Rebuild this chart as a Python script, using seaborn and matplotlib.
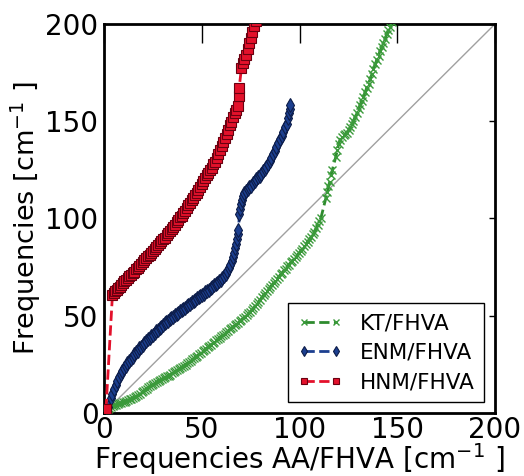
import numpy as np
import pandas as pd
import matplotlib
matplotlib.use("Agg")
import matplotlib.pyplot as plt
import seaborn as sns

# ---------------- data ----------------
axis_range = [0, 200]
ticks = [0, 50, 100, 150, 200]

kt_x = [0.5, 1.2, 2.0, 2.8, 3.6, 4.5, 5.3, 6.2, 7.0, 7.9, 8.8, 9.6, 10.5, 11.4, 12.3, 13.1, 14.0, 14.9, 15.7, 16.6,
        17.5, 18.3, 19.2, 20.1, 20.9, 21.8, 22.7, 23.5, 24.4, 25.3, 26.1, 27.0, 27.9, 28.7, 29.6, 30.5, 31.3, 32.2,
        33.1, 33.9, 34.8, 35.7, 36.5, 37.4, 38.3, 39.1, 40.0, 40.9, 41.7, 42.6, 43.5, 44.3, 45.2, 46.1, 46.9, 47.8,
        48.7, 49.5, 50.4, 51.3, 52.1, 53.0, 53.9, 54.7, 55.6, 56.5, 57.3, 58.2, 59.1, 59.9, 60.8, 61.7, 62.5, 63.4,
        64.3, 65.1, 66.0, 66.9, 67.7, 68.6, 69.5, 70.3, 71.2, 72.1, 72.9, 73.8, 74.7, 75.5, 76.4, 77.3, 78.1, 79.0,
        79.9, 80.7, 81.6, 82.5, 83.3, 84.2, 85.1, 85.9, 86.8, 87.7, 88.5, 89.4, 90.3, 91.1, 92.0, 92.9, 93.7, 94.6,
        95.5, 96.3, 97.2, 98.1, 98.9, 99.8, 100.7, 101.5, 102.4, 103.3, 104.1, 105.0, 105.9, 106.7, 107.6, 108.5,
        109.3, 110.2, 111.0, 113.5, 114.3, 114.8, 115.5, 116.2, 116.8, 118.5, 119.3, 120.1, 120.8, 121.6, 122.5,
        123.4, 124.3, 125.1, 125.9, 126.8, 127.6, 128.5, 129.3, 130.2, 131.0, 131.9, 132.7, 133.6, 134.4, 135.3,
        136.1, 137.0, 137.8, 138.7, 139.5, 140.4, 141.2, 142.1, 142.9, 143.8, 144.6, 145.5, 146.3, 147.2]
kt_y = [0.8, 1.5, 2.2, 2.6, 3.1, 3.4, 3.9, 4.1, 4.6, 4.9, 5.2, 5.6, 5.9, 6.3, 6.6, 7.1, 7.3, 7.8, 8.0, 8.5,
        9.1, 9.8, 10.6, 11.2, 11.9, 12.4, 13.3, 13.8, 14.5, 14.9, 15.6, 16.0, 16.6, 17.1, 17.4, 17.9, 18.3, 18.9,
        19.2, 19.6, 20.3, 20.9, 21.5, 22.0, 22.7, 23.1, 23.8, 24.2, 24.9, 25.5, 26.3, 26.8, 27.6, 28.1, 28.9, 29.5,
        30.3, 30.9, 31.7, 32.4, 33.1, 33.7, 34.6, 35.1, 35.9, 36.6, 37.4, 37.9, 38.8, 39.4, 40.2, 40.8, 41.6, 42.1,
        43.0, 43.6, 44.4, 45.0, 45.8, 46.4, 47.3, 47.9, 48.8, 49.4, 50.3, 51.2, 52.0, 52.9, 53.8, 55.0, 56.0, 57.3,
        58.3, 59.4, 60.6, 61.5, 62.7, 63.6, 64.9, 65.8, 66.9, 68.0, 69.1, 70.0, 71.2, 72.1, 73.3, 74.2, 75.4, 76.3,
        77.4, 78.3, 79.3, 80.1, 81.2, 82.3, 83.5, 84.4, 85.7, 86.7, 88.0, 89.3, 90.4, 91.8, 93.3, 95.0,
        96.8, 98.5, 100.5, 110.5, 113.8, 116.5, 119.0, 122.5, 125.0, 131.5, 135.0, 138.4, 140.6, 141.8, 142.8,
        143.5, 144.2, 145.3, 146.8, 148.6, 150.3, 152.2, 154.0, 156.2, 158.4, 160.6, 162.6, 164.9, 167.3, 169.4,
        171.5, 174.2, 176.9, 179.3, 181.5, 183.7, 186.0, 188.2, 190.1, 192.4, 194.8, 196.9, 198.6, 201.0]

enm_x = [2.0, 3.4, 4.2, 5.0, 5.9, 6.8, 7.7, 8.5, 9.4, 10.3, 11.1, 12.0, 12.9, 13.7, 14.6, 15.5, 16.3, 17.2, 18.1,
         18.9, 19.8, 20.7, 21.5, 22.4, 23.3, 24.1, 25.0, 25.9, 26.7, 27.6, 28.5, 29.3, 30.2, 31.1, 31.9, 32.8, 33.7,
         34.5, 35.4, 36.3, 37.1, 38.0, 38.9, 39.7, 40.6, 41.5, 42.3, 43.2, 44.1, 44.9, 45.8, 46.7, 47.5, 48.4, 49.3,
         50.1, 51.0, 51.9, 52.7, 53.6, 54.5, 55.3, 56.2, 57.1, 57.9, 58.8, 59.7, 60.5, 61.4, 62.3, 63.1, 63.9, 64.6,
         65.3, 66.0, 66.6, 67.2, 67.7, 68.1, 68.5, 68.7, 69.3, 69.6, 70.0, 70.5, 71.1, 71.8, 72.6, 73.5, 74.4, 75.2,
         76.1, 77.0, 77.8, 78.7, 79.6, 80.4, 81.3, 82.2, 83.0, 83.9, 84.8, 85.6, 86.5, 87.4, 88.2, 89.1, 90.0, 90.8,
         91.7, 92.6, 93.4, 94.0, 94.5, 94.9, 95.2]
enm_y = [3.0, 7.5, 10.0, 12.2, 14.6, 16.6, 18.6, 20.1, 21.6, 23.2, 24.3, 25.6, 26.9, 27.9, 29.0, 30.1, 31.1, 32.1, 33.2,
         34.0, 35.1, 36.0, 36.9, 37.8, 38.7, 39.4, 40.3, 41.0, 41.9, 42.7, 43.6, 44.3, 45.3, 46.1, 46.9, 47.5, 48.2,
         48.8, 49.6, 50.2, 51.0, 51.6, 52.3, 52.8, 53.6, 54.1, 54.9, 55.4, 56.2, 56.9, 57.6, 58.2, 58.9, 59.5, 60.1,
         60.6, 61.3, 62.0, 62.7, 63.4, 64.1, 64.8, 65.6, 66.3, 67.0, 67.8, 68.6, 69.5, 70.4, 71.5, 72.8, 74.3, 76.2,
         78.3, 80.2, 82.3, 84.6, 87.0, 89.4, 92.0, 94.0, 102.3, 104.8, 107.2, 109.5, 111.6, 113.2, 114.3, 115.2, 116.0,
         116.9, 118.2, 119.3, 120.2, 121.1, 122.1, 123.1, 124.2, 125.4, 126.4, 127.8, 129.5, 131.1, 133.0, 134.9,
         136.8, 138.7, 140.7, 142.5, 144.6, 146.8, 148.8, 151.5, 154.0, 156.5, 158.5]

hnm_x = [1.0, 4.3, 5.0, 5.8, 6.5, 7.3, 8.0, 8.9, 9.6, 10.4, 11.2, 12.1, 13.0, 13.8, 14.7, 15.5, 16.4, 17.3, 18.1,
         19.0, 19.9, 20.7, 21.6, 22.5, 23.3, 24.2, 25.1, 25.9, 26.8, 27.7, 28.5, 29.4, 30.3, 31.1, 32.0, 32.9, 33.7,
         34.6, 35.5, 36.3, 37.2, 38.0, 38.9, 39.7, 40.6, 41.4, 42.3, 43.1, 44.0, 44.8, 45.7, 46.5, 47.4, 48.2, 49.1,
         49.9, 50.8, 51.6, 52.5, 53.3, 54.2, 55.0, 55.9, 56.7, 57.6, 58.4, 59.3, 60.1, 61.0, 61.8, 62.7, 63.5, 64.4,
         65.2, 66.1, 66.9, 67.7, 68.3, 68.8, 69.1, 70.3, 71.0, 71.8, 72.6, 73.4, 74.2, 75.0, 75.9, 76.7, 77.5]
hnm_y = [2.0, 60.5, 61.5, 62.6, 63.0, 64.1, 64.8, 66.0, 66.6, 67.8, 68.4, 69.5, 70.2, 71.0, 71.9, 72.6, 73.9, 74.6,
         75.7, 76.5, 77.7, 78.4, 79.6, 80.5, 81.3, 82.5, 83.4, 84.5, 85.2, 86.4, 87.2, 88.4, 89.3, 90.1, 91.4, 92.3,
         93.6, 94.5, 95.8, 96.8, 98.0, 99.2, 100.6, 101.5, 102.9, 104.0, 105.5, 106.8, 108.1, 109.5, 110.6, 112.0,
         113.3, 114.9, 116.2, 117.6, 119.4, 120.7, 122.3, 123.5, 125.0, 126.2, 127.8, 129.2, 131.0, 132.9, 135.0,
         137.2, 139.3, 141.5, 143.6, 145.6, 147.9, 149.8, 152.0, 154.1, 156.0, 157.8, 162.8, 166.9, 177.4, 179.8,
         181.9, 184.3, 187.0, 190.0, 193.0, 196.0, 198.8, 201.5]

labels = ["KT/FHVA", "ENM/FHVA", "HNM/FHVA"]

# ---------------- style ----------------
sns.set_style("white")
plt.rcParams['font.family'] = ['DejaVu Sans']
plt.rcParams['mathtext.fontset'] = 'dejavusans'
plt.rcParams['text.color'] = 'black'
plt.rcParams['axes.labelcolor'] = 'black'
plt.rcParams['xtick.color'] = 'black'
plt.rcParams['ytick.color'] = 'black'

fig = plt.figure(figsize=(5.24, 4.76), dpi=100)
ax = fig.add_axes([0.1985, 0.1324, 0.7462, 0.8172])

ax.plot(axis_range, axis_range, color='#a0a0a0', lw=1.0, zorder=1)

series = [
    (kt_x, kt_y, labels[0], dict(color='#2e8b2e', marker='x', markersize=6, markeredgewidth=1.0,
                                 markerfacecolor='#2e8b2e', markeredgecolor='#3a9a3a')),
    (enm_x, enm_y, labels[1], dict(color='#1c3f8f', marker='d', markersize=7.5, markeredgewidth=0.8,
                                   markerfacecolor='#1c3f8f', markeredgecolor='#0c1c48')),
    (hnm_x, hnm_y, labels[2], dict(color='#e3112b', marker='s', markersize=7, markeredgewidth=0.8,
                                   markerfacecolor='#e3112b', markeredgecolor='#6a0010')),
]
for xs, ys, lab, kw in series:
    df = pd.DataFrame({"x": xs, "y": ys})
    sns.lineplot(data=df, x="x", y="y", ax=ax, sort=False, estimator=None,
                 linestyle='--', lw=2.0, label=lab, zorder=3, **kw)

ax.set_xlim(axis_range)
ax.set_ylim(axis_range)
ax.set_xticks(ticks)
ax.set_yticks(ticks)
ax.tick_params(axis='both', direction='in', top=True, right=True, labelsize=20, width=1, colors='black')
ax.tick_params(axis='x', length=14, pad=2)
ax.tick_params(axis='y', length=4, pad=4)
for s in ax.spines.values():
    s.set_linewidth(2)
    s.set_color('black')

ax.set_xlabel(r'Frequencies AA/FHVA [cm$^{-1}$ ]', fontsize=20, labelpad=-2, color='black')
ax.set_ylabel(r'Frequencies [cm$^{-1}$ ]', fontsize=19.5, labelpad=2, color='black')

leg = ax.legend(loc='lower right', fontsize=15.5, numpoints=2, fancybox=False, framealpha=1,
                edgecolor='black', handlelength=2.1, handletextpad=0.8, borderaxespad=0.5,
                labelspacing=0.45, borderpad=0.45, markerscale=0.7)
leg.get_frame().set_linewidth(1.0)

fig.savefig("out.png", dpi=100, facecolor='white')
